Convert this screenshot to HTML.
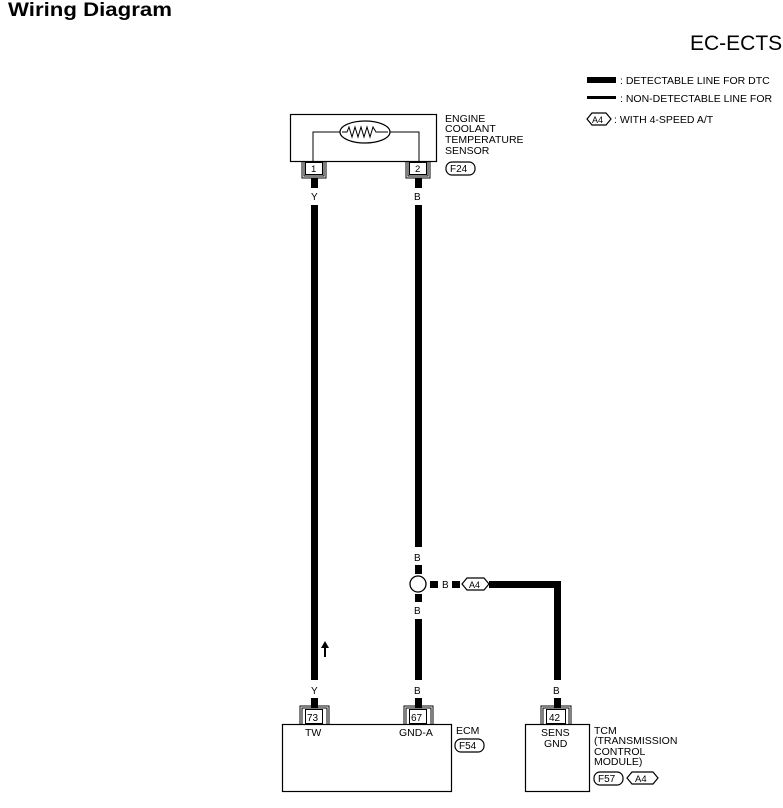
<!DOCTYPE html>
<html><head><style>
body{margin:0;background:#fff}
svg{display:block}
text{font-family:"Liberation Sans",sans-serif;fill:#000}
</style></head><body>
<svg width="783" height="808" viewBox="0 0 783 808" xmlns="http://www.w3.org/2000/svg">
<text x="8" y="16" font-size="19" font-weight="bold" textLength="164" lengthAdjust="spacingAndGlyphs">Wiring Diagram</text>
<text x="690" y="50" font-size="21">EC-ECTS</text>
<!-- legend -->
<rect x="587" y="77" width="29" height="6" fill="#000"/>
<text x="620" y="84" font-size="10.5">: DETECTABLE LINE FOR DTC</text>
<rect x="587" y="96" width="29" height="3" fill="#000"/>
<text x="620" y="102" font-size="10.5">: NON-DETECTABLE LINE FOR</text>
<polygon points="587,119 592,113 606,113 611,119 606,125 592,125" fill="none" stroke="#000" stroke-width="1.2"/>
<text x="592" y="123" font-size="9">A4</text>
<text x="614" y="123" font-size="10.5">: WITH 4-SPEED A/T</text>
<!-- sensor -->
<rect x="290.5" y="114.5" width="146" height="47" fill="none" stroke="#000" stroke-width="1.2"/>
<polyline points="313,162 313,132 340,132" fill="none" stroke="#000"/>
<polyline points="390,132 419,132 419,162" fill="none" stroke="#000"/>
<ellipse cx="365" cy="132" rx="25" ry="11" fill="#fff" stroke="#000" stroke-width="1.2"/>
<polyline points="342,132 347,132 349,127 352,137 355,127 358,137 361,127 364,137 367,127 370,137 373,127 376,132 388,132" fill="none" stroke="#000"/>
<text x="445" y="122" font-size="10.5">ENGINE</text>
<text x="445" y="132" font-size="10.5">COOLANT</text>
<text x="445" y="143" font-size="10.5">TEMPERATURE</text>
<text x="445" y="154" font-size="10.5">SENSOR</text>
<rect x="446" y="162" width="29" height="13" rx="6" fill="none" stroke="#000" stroke-width="1.2"/>
<text x="450" y="172" font-size="10">F24</text>
<!-- connectors top -->
<g fill="none" stroke="#000">
<rect x="305.5" y="162.5" width="17" height="12"/>
<polyline points="302,162 302,178 326,178 326,162"/>
<polyline points="304,162 304,176 324,176 324,162"/>
<rect x="409.5" y="162.5" width="17" height="12"/>
<polyline points="406,162 406,178 430,178 430,162"/>
<polyline points="408,162 408,176 428,176 428,162"/>
</g>
<text x="311" y="172" font-size="9.5">1</text>
<text x="415" y="172" font-size="9.5">2</text>
<!-- wires -->
<g fill="#000">
<rect x="311" y="178" width="7" height="10"/>
<rect x="311" y="205" width="7" height="475"/>
<rect x="415" y="178" width="7" height="10"/>
<rect x="415" y="205" width="7" height="342"/>
<rect x="415" y="565" width="7" height="9"/>
<rect x="415" y="594" width="7" height="8"/>
<rect x="415" y="619" width="7" height="61"/>
<rect x="311" y="698" width="7" height="10"/>
<rect x="415" y="698" width="7" height="10"/>
<rect x="430" y="581" width="8" height="7"/>
<rect x="452" y="581" width="8" height="7"/>
<rect x="489" y="581" width="72" height="7"/>
<rect x="554" y="581" width="7" height="99"/>
<rect x="554" y="698" width="7" height="10"/>
</g>
<circle cx="418" cy="584" r="8" fill="#fff" stroke="#000" stroke-width="1.3"/>
<text x="414" y="200" font-size="10">B</text>
<text x="311" y="200" font-size="10">Y</text>
<text x="414" y="561" font-size="10">B</text>
<text x="414" y="614" font-size="10">B</text>
<text x="442" y="588" font-size="10">B</text>
<polygon points="462,584 467,578 484,578 489,584 484,590 467,590" fill="#fff" stroke="#000" stroke-width="1.2"/>
<text x="469" y="588" font-size="9">A4</text>
<text x="311" y="694" font-size="10">Y</text>
<text x="414" y="694" font-size="10">B</text>
<text x="553" y="694" font-size="10">B</text>
<!-- arrow -->
<rect x="324" y="647" width="2" height="10" fill="#000"/>
<polygon points="321,648 325,641 329,648" fill="#000"/>
<!-- ECM -->
<rect x="282.5" y="724.5" width="169" height="67" fill="none" stroke="#000" stroke-width="1.2"/>
<g fill="none" stroke="#000">
<rect x="305.5" y="709.5" width="17" height="14"/>
<polyline points="300,724 300,706 329,706 329,724"/>
<polyline points="302,724 302,708 327,708 327,724"/>
<rect x="409.5" y="709.5" width="17" height="14"/>
<polyline points="404,724 404,706 433,706 433,724"/>
<polyline points="406,724 406,708 431,708 431,724"/>
<rect x="546.5" y="709.5" width="19" height="14"/>
<polyline points="541,724 541,706 571,706 571,724"/>
<polyline points="543,724 543,708 569,708 569,724"/>
</g>
<text x="307" y="721" font-size="10">73</text>
<text x="411" y="721" font-size="10">67</text>
<text x="549" y="721" font-size="10">42</text>
<text x="305" y="736" font-size="10.5">TW</text>
<text x="399" y="736" font-size="10.5">GND-A</text>
<text x="456" y="734" font-size="10.5">ECM</text>
<rect x="455" y="739" width="29" height="13" rx="6" fill="none" stroke="#000" stroke-width="1.2"/>
<text x="459" y="749" font-size="10">F54</text>
<!-- TCM -->
<rect x="525.5" y="724.5" width="64" height="67" fill="none" stroke="#000" stroke-width="1.2"/>
<text x="541" y="736" font-size="10.5">SENS</text>
<text x="544" y="747" font-size="10.5">GND</text>
<text x="594" y="734" font-size="10.5">TCM</text>
<text x="594" y="744" font-size="10.5">(TRANSMISSION</text>
<text x="594" y="755" font-size="10.5">CONTROL</text>
<text x="594" y="765" font-size="10.5">MODULE)</text>
<rect x="594" y="772" width="29" height="13" rx="6" fill="none" stroke="#000" stroke-width="1.2"/>
<text x="598" y="782" font-size="10">F57</text>
<polygon points="627,778 632,772 653,772 658,778 653,784 632,784" fill="none" stroke="#000" stroke-width="1.2"/>
<text x="635" y="782" font-size="9.5">A4</text>
</svg>
</body></html>
